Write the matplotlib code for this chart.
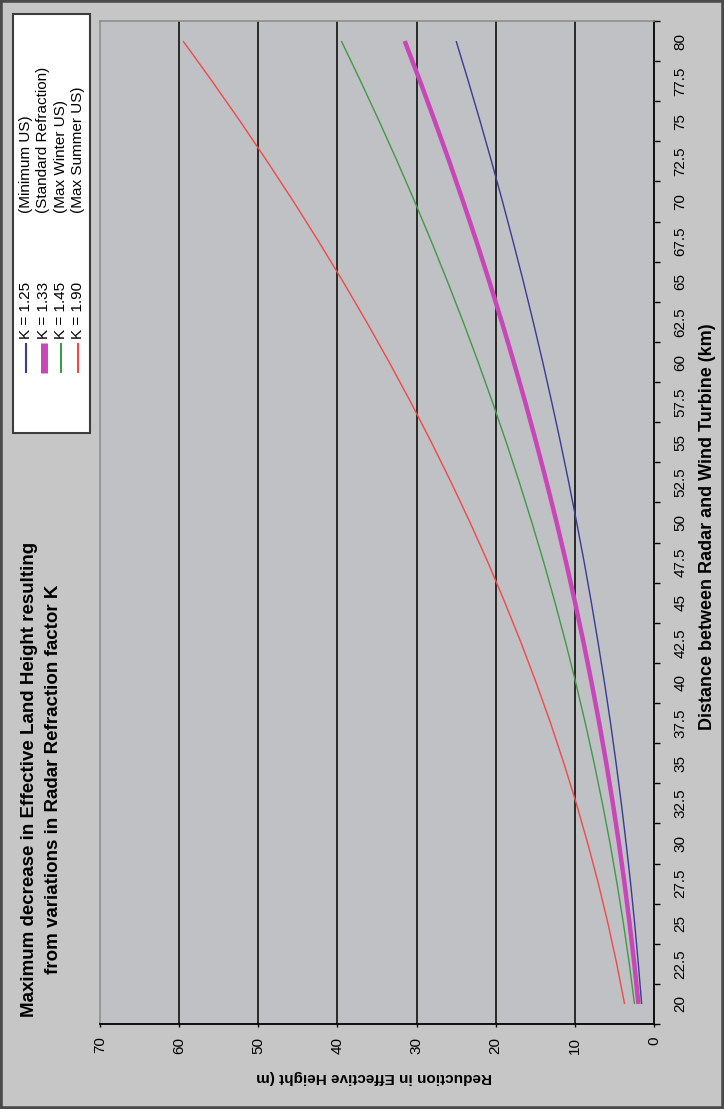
import matplotlib
matplotlib.use("Agg")
import matplotlib.pyplot as plt
from matplotlib.patches import Rectangle
from matplotlib.lines import Line2D
import numpy as np

plt.rcParams['font.family'] = ['Liberation Sans', 'DejaVu Sans']

# Distance between radar and wind turbine (km) - category axis
distance_km = [20, 22.5, 25, 27.5, 30, 32.5, 35, 37.5, 40, 42.5, 45, 47.5, 50,
               52.5, 55, 57.5, 60, 62.5, 65, 67.5, 70, 72.5, 75, 77.5, 80]

# Reduction in effective height (m) for each refraction factor K
k_125 = [1.56, 1.98, 2.44, 2.95, 3.52, 4.13, 4.79, 5.49, 6.25, 7.06, 7.91, 8.81, 9.77,
         10.77, 11.82, 12.92, 14.06, 15.26, 16.50, 17.80, 19.14, 20.53, 21.97, 23.46, 25.0]
k_133 = [1.97, 2.49, 3.08, 3.72, 4.43, 5.20, 6.03, 6.92, 7.88, 8.89, 9.97, 11.10, 12.30,
         13.57, 14.89, 16.27, 17.72, 19.23, 20.80, 22.42, 24.12, 25.87, 27.69, 29.56, 31.5]
k_145 = [2.47, 3.12, 3.86, 4.67, 5.55, 6.52, 7.56, 8.68, 9.88, 11.15, 12.50, 13.92, 15.43,
         17.01, 18.67, 20.41, 22.22, 24.11, 26.08, 28.12, 30.24, 32.44, 34.72, 37.07, 39.5]
k_190 = [3.72, 4.71, 5.81, 7.03, 8.37, 9.82, 11.39, 13.07, 14.88, 16.79, 18.83, 20.97, 23.24,
         25.63, 28.13, 30.74, 33.47, 36.32, 39.28, 42.36, 45.55, 48.87, 52.29, 55.84, 59.5]

series_names = ["K = 1.25", "K = 1.33", "K = 1.45", "K = 1.90"]
series_notes = ["(Minimum US)", "(Standard Refraction)", "(Max Winter US)", "(Max Summer US)"]
series_values = [k_125, k_133, k_145, k_190]
series_colors = ["#3a3a96", "#c846b8", "#3f9a45", "#f24848"]
series_widths = [1.0, 3.2, 1.0, 1.0]

value_ticks = [0, 10, 20, 30, 40, 50, 60, 70]

W, H = 724, 1109
fig = plt.figure(figsize=(W / 100, H / 100), dpi=100, facecolor="#c6c6c6")


def fx(x):
    return x / W


def fy(y):
    return 1 - y / H


# Plot area (the whole chart is laid out turned a quarter turn)
left, right, top, bottom = 100, 654, 21, 1024
ax = fig.add_axes([fx(left), fy(bottom), (right - left) / W, (bottom - top) / H])
ax.set_facecolor("#c0c1c4")

idx = np.arange(len(distance_km))
for vals, col, lw in zip(series_values, series_colors, series_widths):
    ax.plot(vals, idx, color=col, lw=lw, zorder=3, solid_capstyle="butt")

ax.set_xlim(70, 0)
ax.set_ylim(-0.5, len(distance_km) - 0.5)

for g in value_ticks[1:-1]:
    ax.axvline(g, color="#1e1e1e", lw=1.3, zorder=1)

ax.set_xticks(value_ticks)
ax.set_xticklabels([str(v) for v in value_ticks])
ax.tick_params(axis="x", direction="out", length=2.5, width=1, pad=6.5,
               labelsize=11, labelrotation=90, colors="black")

ax.yaxis.tick_right()
ax.set_yticks(idx)
ax.set_yticklabels([f"{d:g}" for d in distance_km], rotation=90, va="center")
ax.set_yticks(np.arange(-0.5, len(distance_km), 1), minor=True)
ax.tick_params(axis="y", which="major", length=0, pad=14, labelsize=11)
ax.tick_params(axis="y", which="minor", length=4, width=1, direction="out")

for side in ("right", "bottom"):
    ax.spines[side].set_color("black")
    ax.spines[side].set_linewidth(1.3)
for side in ("left", "top"):
    ax.spines[side].set_color("#8e8e8e")
    ax.spines[side].set_linewidth(1.2)

# Axis titles
fig.text(fx(707), fy(527), "Distance between Radar and Wind Turbine (km)",
         rotation=90, ha="center", va="center", fontsize=13, fontweight="bold")
fig.text(fx(374), fy(1077), "Reduction in Effective Height (m",
         rotation=180, ha="center", va="center", fontsize=11, fontweight="bold")

# Chart title
fig.text(fx(30), fy(779), "Maximum decrease in Effective Land Height resulting",
         rotation=90, ha="center", va="center", fontsize=13.5, fontweight="bold")
fig.text(fx(54), fy(779), "from variations in Radar Refraction factor K",
         rotation=90, ha="center", va="center", fontsize=13.5, fontweight="bold")

# Legend box
fig.add_artist(Rectangle((fx(13), fy(433)), (90 - 13) / W, (433 - 14) / H,
                         transform=fig.transFigure, facecolor="white",
                         edgecolor="#3c3c3c", lw=1.5, zorder=1))
legend_cols = [26, 43.5, 61, 78]
legend_widths = [1.5, 5.0, 1.5, 1.5]
for xc, name, note, col, lw in zip(legend_cols, series_names, series_notes,
                                   series_colors, legend_widths):
    fig.add_artist(Line2D([fx(xc), fx(xc)], [fy(373), fy(343)],
                          transform=fig.transFigure, color=col, lw=lw,
                          solid_capstyle="butt", zorder=2))
    fig.text(fx(xc), fy(339), name, rotation=90, rotation_mode="anchor",
             ha="left", va="center", fontsize=11, zorder=3)
    fig.text(fx(xc), fy(213), note, rotation=90, rotation_mode="anchor",
             ha="left", va="center", fontsize=11, zorder=3)

# Outer chart border
fig.add_artist(Rectangle((0, 0), 1, 1, transform=fig.transFigure, fill=False,
                         edgecolor="#4a4a4a", lw=4))

fig.savefig("out.png", dpi=100, facecolor=fig.get_facecolor())
